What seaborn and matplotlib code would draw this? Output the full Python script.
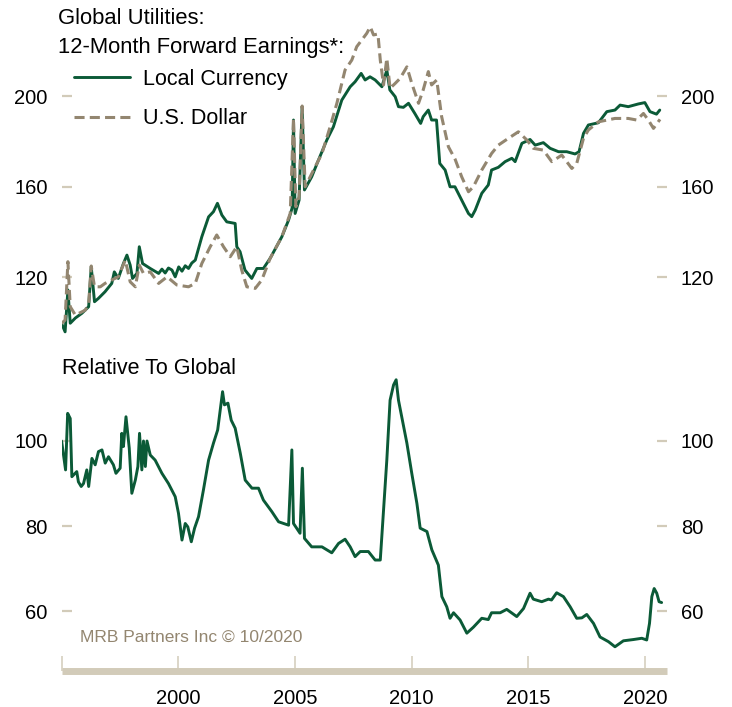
import matplotlib
matplotlib.use("Agg")
import matplotlib.pyplot as plt
import seaborn as sns
import pandas as pd

# Global utilities 12-month forward earnings (index), decimal years
lc_years = [1995.00, 1995.15, 1995.27, 1995.37, 1995.59, 1995.87, 1996.16, 1996.27, 1996.41, 1996.58,
            1996.86, 1997.15, 1997.26, 1997.43, 1997.65, 1997.80, 1997.94, 1998.04, 1998.23, 1998.33,
            1998.47, 1998.80, 1999.16, 1999.30, 1999.44, 1999.58, 1999.73, 1999.87, 2000.02, 2000.16,
            2000.30, 2000.44, 2000.58, 2000.73, 2001.01,
            2001.30, 2001.51, 2001.68, 2001.87, 2002.08, 2002.44, 2002.51, 2002.65, 2002.86, 2003.15,
            2003.37, 2003.65, 2003.94, 2004.44, 2004.73, 2004.88, 2004.94, 2005.01, 2005.18, 2005.31,
            2005.41, 2005.72, 2006.01, 2006.37, 2006.65, 2007.01, 2007.37, 2007.58, 2007.84, 2008.01,
            2008.22, 2008.44, 2008.73, 2008.94, 2009.07, 2009.30, 2009.44, 2009.65, 2009.87, 2010.14,
            2010.39, 2010.50, 2010.72, 2010.86, 2011.07, 2011.21, 2011.44, 2011.65, 2011.86, 2012.15,
            2012.44, 2012.58, 2012.73, 2013.01, 2013.29, 2013.43, 2013.72, 2014.01, 2014.30, 2014.44,
            2014.73, 2015.08, 2015.30, 2015.65, 2015.94, 2016.30, 2016.65, 2017.01, 2017.18, 2017.37,
            2017.58, 2018.01, 2018.37, 2018.72, 2018.94, 2019.29, 2019.72, 2020.00, 2020.22, 2020.50,
            2020.64]
lc_values = [99.5, 95.8, 114.3, 99.6, 101.9, 104.0, 106.9, 124.6, 109.1, 110.6,
             113.5, 117.2, 122.3, 119.4, 126.0, 129.7, 125.3, 119.4, 121.6, 133.4,
             126.0, 123.8, 121.6, 123.5, 121.8, 124.0, 123.1, 120.1, 124.5, 122.6,
             125.0, 123.8, 126.2, 127.5, 137.8,
             146.6, 148.9, 152.6, 147.4, 144.4, 143.7, 133.4, 131.2, 123.1, 119.4,
             123.8, 123.8, 128.3, 137.8, 145.2, 150.5, 189.4, 148.1, 154.0, 195.3,
             158.5, 164.3, 171.7, 180.6, 186.4, 198.2, 204.1, 206.3, 210.0, 207.1,
             208.5, 207.1, 204.1, 211.5, 202.7, 199.7, 195.3, 195.0, 196.8, 192.3,
             187.9, 190.9, 193.8, 189.4, 189.4, 170.2, 167.3, 159.9, 159.9, 154.0,
             148.1, 146.7, 149.6, 157.0, 160.7, 167.3, 168.5, 171.0, 172.5, 171.0,
             179.1, 180.8, 178.3, 179.4, 176.9, 175.4, 175.4, 174.4, 175.4, 183.5,
             187.2, 188.2, 193.1, 193.8, 196.0, 195.3, 196.5, 197.1, 193.1, 192.0,
             193.8]

usd_years = [1995.00, 1995.15, 1995.27, 1995.37, 1995.59, 1996.02, 1996.16, 1996.27, 1996.41, 1996.66,
             1996.86, 1997.15, 1997.43, 1997.73, 1997.94, 1998.16, 1998.33, 1998.51, 1998.80, 1999.16,
             1999.52, 1999.94, 2000.44, 2000.73, 2001.01, 2001.37, 2001.65, 2001.94, 2002.23, 2002.51,
             2002.72, 2002.94, 2003.30, 2003.58, 2003.94, 2004.44, 2004.80, 2004.94, 2005.04, 2005.18,
             2005.31, 2005.44, 2005.80, 2006.16, 2006.51, 2006.80, 2007.15, 2007.44, 2007.65, 2007.87,
             2008.08, 2008.23, 2008.37, 2008.56, 2008.66, 2008.80, 2008.94, 2009.08, 2009.30, 2009.51,
             2009.80, 2010.01, 2010.30, 2010.50, 2010.72, 2010.86, 2011.08, 2011.29, 2011.58, 2011.87,
             2012.15, 2012.44, 2012.65, 2013.01, 2013.43, 2013.72, 2014.15, 2014.58, 2014.94, 2015.22,
             2015.65, 2016.01, 2016.44, 2016.87, 2017.08, 2017.37, 2017.58, 2018.01, 2018.72, 2019.29,
             2019.65, 2019.94, 2020.15, 2020.37, 2020.65]
usd_values = [99.5, 101.0, 126.8, 106.9, 103.2, 105.4, 108.4, 124.9, 115.7, 115.7,
              117.2, 118.7, 120.1, 127.5, 117.9, 115.7, 125.3, 121.6, 122.3, 117.2,
              120.1, 116.5, 115.7, 117.2, 126.0, 133.4, 138.6, 133.4, 129.0, 133.4,
              123.1, 115.7, 115.0, 118.7, 128.3, 137.8, 148.1, 190.1, 151.1, 155.5,
              195.6, 159.9, 167.3, 174.6, 186.4, 196.8, 211.5, 215.9, 221.8, 224.8,
              227.7, 230.6, 227.0, 227.4, 215.9, 204.9, 216.7, 203.4, 205.6, 207.8,
              212.9, 205.6, 196.8, 202.7, 210.8, 204.9, 207.1, 190.9, 177.6, 172.0,
              164.3, 157.7, 159.9, 167.3, 174.6, 178.3, 181.3, 184.2, 180.6, 176.9,
              176.1, 171.0, 173.9, 168.0, 170.2, 181.3, 185.0, 188.6, 190.1, 190.1,
              189.4, 192.3, 189.4, 185.7, 189.7]

# Utilities relative to global market
rel_years = [1995.00, 1995.17, 1995.26, 1995.37, 1995.44, 1995.65, 1995.72, 1995.84, 1995.94, 1996.08,
             1996.16, 1996.30, 1996.44, 1996.58, 1996.73, 1996.87, 1997.01, 1997.22, 1997.33, 1997.51,
             1997.58, 1997.65, 1997.76, 1997.90, 1998.01, 1998.16, 1998.27, 1998.34, 1998.44, 1998.51,
             1998.59, 1998.66, 1998.80, 1999.01, 1999.30, 1999.58, 1999.87, 2000.01, 2000.16, 2000.30,
             2000.41, 2000.56, 2000.70, 2000.87, 2001.08, 2001.30, 2001.51, 2001.69, 2001.80, 2001.90,
             2001.98, 2002.13, 2002.27, 2002.44, 2002.66, 2002.87, 2003.16, 2003.44, 2003.65, 2004.01,
             2004.30, 2004.73, 2004.87, 2004.94, 2005.22, 2005.32, 2005.41, 2005.72, 2006.16, 2006.58,
             2006.87, 2007.15, 2007.37, 2007.58, 2007.80, 2008.15, 2008.44, 2008.66, 2008.80, 2008.94,
             2009.08, 2009.23, 2009.34, 2009.44, 2009.58, 2009.80, 2010.01, 2010.23, 2010.37, 2010.66,
             2010.87, 2011.15, 2011.30, 2011.51, 2011.65, 2011.80, 2012.08, 2012.37, 2012.65, 2013.01,
             2013.29, 2013.43, 2013.80, 2014.08, 2014.51, 2014.80, 2015.08, 2015.22, 2015.58, 2015.87,
             2016.00, 2016.22, 2016.51, 2016.80, 2017.08, 2017.30, 2017.51, 2017.80, 2018.08, 2018.44,
             2018.72, 2019.08, 2019.51, 2019.87, 2020.08, 2020.20, 2020.30, 2020.40, 2020.51, 2020.61,
             2020.72]
rel_values = [100.0, 93.2, 106.5, 105.3, 91.6, 92.8, 90.4, 89.3, 90.0, 93.2,
              89.3, 95.9, 94.4, 97.5, 97.9, 94.8, 96.3, 94.4, 92.4, 93.6,
              101.8, 98.7, 105.7, 98.3, 87.7, 90.8, 94.0, 101.8, 93.2, 100.0,
              94.0, 100.0, 96.7, 95.5, 92.4, 90.0, 86.9, 83.0, 76.7, 80.6,
              79.8, 76.3, 79.5, 82.2, 88.5, 95.5, 99.5, 102.6, 107.3, 111.6,
              108.5, 108.9, 104.9, 103.0, 97.1, 90.8, 88.9, 88.9, 86.1, 83.4,
              81.0, 80.2, 97.9, 80.6, 78.3, 93.6, 77.1, 75.1, 75.1, 73.7,
              75.9, 76.9, 75.1, 72.8, 74.0, 74.0, 72.0, 72.0, 83.8, 95.5,
              109.6, 113.2, 114.4, 109.6, 105.7, 99.5, 92.4, 85.3, 79.5, 78.7,
              74.4, 70.8, 63.4, 61.0, 58.3, 59.6, 57.9, 54.8, 56.2, 58.3,
              58.0, 59.6, 59.6, 60.4, 58.7, 60.6, 64.2, 62.8, 62.2, 62.8,
              62.6, 64.3, 63.4, 61.0, 58.3, 58.4, 59.2, 57.1, 53.9, 52.8,
              51.6, 53.0, 53.3, 53.6, 53.2, 57.1, 63.4, 65.3, 64.2, 62.2,
              62.0]

year_ticks = [1995, 2000, 2005, 2010, 2015, 2020]
year_labels = ["", "2000", "2005", "2010", "2015", "2020"]
top_ticks = [120, 160, 200]
bottom_ticks = [60, 80, 100]

GREEN = "#0b5a37"
TAN = "#938670"
TICK = "#d2cbb9"
FONT = "Liberation Sans"

sns.set_theme(style="white")
plt.rcParams["font.family"] = [FONT, "DejaVu Sans"]
plt.rcParams["text.color"] = "black"

W, H = 732, 707
fig = plt.figure(figsize=(W / 100, H / 100), dpi=100)

x_left, x_right = 61.6, 667.0
xlim = (1995.0, 2020.95)


def axes_px(top, bottom):
    return fig.add_axes([x_left / W, (H - bottom) / H, (x_right - x_left) / W, (bottom - top) / H])


ax1 = axes_px(20, 335)
ax2 = axes_px(370, 671)

lc = pd.DataFrame({"year": lc_years, "value": lc_values})
usd = pd.DataFrame({"year": usd_years, "value": usd_values})
rel = pd.DataFrame({"year": rel_years, "value": rel_values})

sns.lineplot(data=lc, x="year", y="value", ax=ax1, color=GREEN, linewidth=2.1,
             estimator=None, label="Local Currency")
sns.lineplot(data=usd, x="year", y="value", ax=ax1, color=TAN, linewidth=2.2,
             estimator=None, label="U.S. Dollar", linestyle=(0, (3.3, 1.7)))
sns.lineplot(data=rel, x="year", y="value", ax=ax2, color=GREEN, linewidth=2.1,
             estimator=None)

ax1.set_ylim(94.4, 233.6)
ax2.set_ylim(45.9, 116.7)

for ax, ticks in ((ax1, top_ticks), (ax2, bottom_ticks)):
    ax.set_xlim(*xlim)
    ax.set_xlabel("")
    ax.set_ylabel("")
    ax.set_yticks(ticks)
    ax.set_yticklabels([str(t) for t in ticks])
    ax.tick_params(axis="y", which="major", direction="in", length=7.5, width=1.6,
                   color=TICK, left=True, right=True, labelleft=True, labelright=True,
                   labelsize=14.5, labelcolor="black", pad=10)
    for side in ("top", "left", "right", "bottom"):
        ax.spines[side].set_visible(False)
    ax.set_facecolor("none")
    ax.grid(False)

ax1.set_xticks([])

ax2.set_xticks(year_ticks)
ax2.set_xticklabels(year_labels)
ax2.tick_params(axis="x", which="major", direction="in", length=11, width=1.1,
                color=TICK, bottom=True, labelsize=14.5, labelcolor="black", pad=13)
ax2.spines["bottom"].set_visible(True)
ax2.spines["bottom"].set_color(TICK)
ax2.spines["bottom"].set_linewidth(5.0)
ax2.spines["bottom"].set_capstyle("butt")

leg = ax1.legend(loc="upper left", bbox_to_anchor=(74 / W, 1 - 69 / H),
                 bbox_transform=fig.transFigure, frameon=False, fontsize=15.5,
                 handlelength=2.6, handletextpad=0.6, labelspacing=0.85,
                 borderaxespad=0, borderpad=0)
for t in leg.get_texts():
    t.set_color("black")

fig.text(58 / W, 1 - 18 / H, "Global Utilities:", fontsize=15.8, color="black",
         va="center", ha="left")
fig.text(58 / W, 1 - 47 / H, "12-Month Forward Earnings*:", fontsize=15.8, color="black",
         va="center", ha="left")
fig.text(62 / W, 1 - 368 / H, "Relative To Global", fontsize=15.5, color="black",
         va="center", ha="left")
fig.text(80 / W, 1 - 637 / H, "MRB Partners Inc \u00a9 10/2020", fontsize=12.5, color=TAN,
         va="center", ha="left", family=["Liberation Sans Narrow", FONT, "DejaVu Sans"])

fig.savefig("out.png", dpi=100, facecolor="white")
